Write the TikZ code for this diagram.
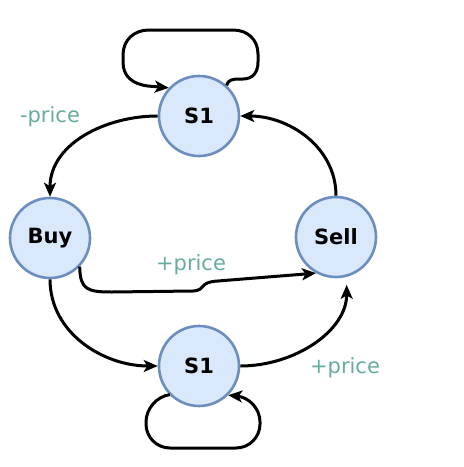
\documentclass[tikz,border=0pt]{standalone}
\usepackage{fontspec}
\setmainfont{DejaVu Sans}
\usetikzlibrary{arrows.meta}
\definecolor{nodefill}{HTML}{DAE8FC}
\definecolor{nodeline}{HTML}{6C8EBF}
\definecolor{lbl}{HTML}{67AB9F}
\begin{document}
\begin{tikzpicture}[x=1pt,y=-1pt,
  state/.style={circle, draw=nodeline, fill=nodefill, line width=2.6pt, minimum size=80pt, inner sep=0pt, font=\fontsize{21}{24}\selectfont\bfseries},
  edge/.style={draw=black, line width=3pt, -{Stealth[length=14pt,width=12pt,inset=3.5pt]}},
  lab/.style={text=lbl, font=\fontsize{21}{24}\selectfont, inner sep=0pt}]
\useasboundingbox (0,0) rectangle (464,467);
\node[state] (t) at (199,116) {S1};
\node[state] (b) at (50,238) {Buy};
\node[state] (s) at (336,237) {Sell};
\node[state] (u) at (199,366) {S1};
\node[lab] (l1) at (50,117) {-price};
\node[lab] (l2) at (191,265) {+price};
\node[lab] (l3) at (345,368) {+price};
% top self loop
\draw[edge] (t.48) .. controls (228,80) and (232,79) .. (240,79) -- (243,79)
  .. controls (253,79) and (258,72) .. (258,62) -- (258,54)
  .. controls (258,40) and (248,30) .. (233,30)
  -- (149,30) .. controls (134,30) and (123,40) .. (123,55) -- (123,62)
  .. controls (123,76) and (132,84) .. (148,86) -- (t.137);
% S1 top -> Buy
\draw[edge] (t.west) to[out=180,in=90] (b.north);
% Sell -> S1 top
\draw[edge] (s.north) to[out=90,in=0] (t.east);
% Buy -> Sell
\draw[edge] (b.-44) .. controls (80,290) and (88,292) .. (112,292) -- (193,291) .. controls (207,290) and (198,282) .. (218,281) -- (s.241);
% Buy -> S1 bottom
\draw[edge] (b.south) to[out=-90,in=180] (u.west);
% S1 bottom -> Sell
\draw[edge, shorten >=8pt] (u.east) to[out=0,in=-90] (s.-75);
% bottom self loop
\draw[edge, rounded corners=24] (u.-136) -- (146,398) -- (146,448) -- (260,448) -- (260,398) -- (u.-45);
\end{tikzpicture}
\end{document}
